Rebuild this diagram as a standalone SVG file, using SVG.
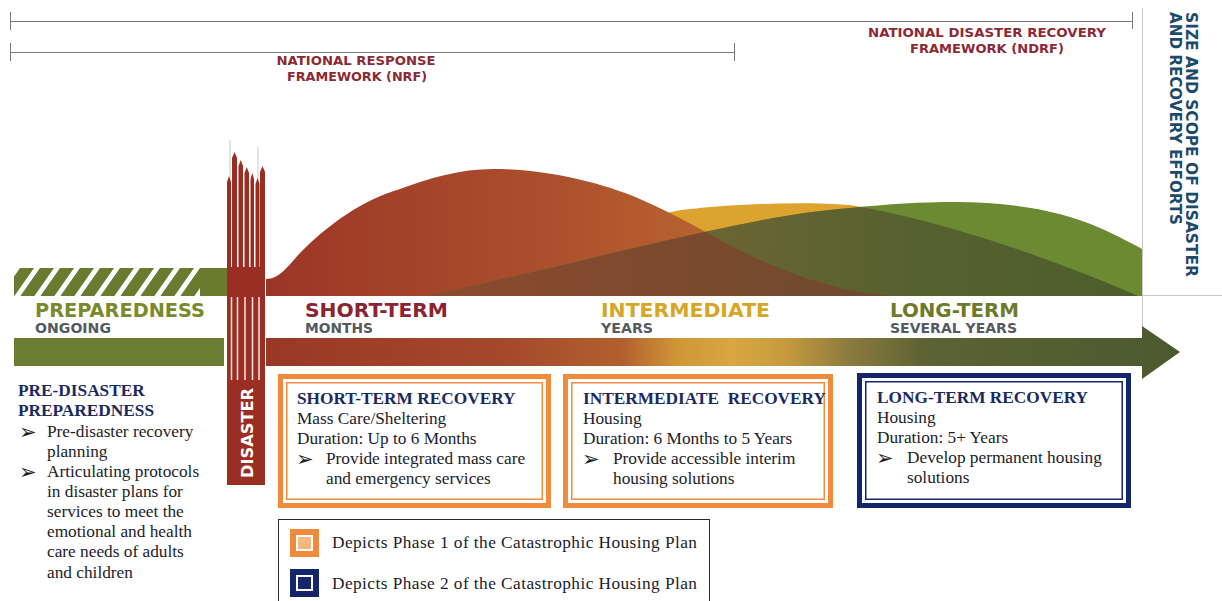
<svg xmlns="http://www.w3.org/2000/svg" width="1222" height="601" viewBox="0 0 1222 601">
  <style>
    .fw { font-family: "DejaVu Sans", Verdana, sans-serif; font-weight: bold; font-size: 12.5px; fill: #8b2a33; text-anchor: middle; }
    .phase { font-family: "DejaVu Sans", Verdana, sans-serif; font-weight: bold; font-size: 19px; }
    .sub { font-family: "DejaVu Sans", Verdana, sans-serif; font-weight: bold; font-size: 13.5px; fill: #555a60; }
    .vert { font-family: "DejaVu Sans", Verdana, sans-serif; font-weight: bold; font-size: 15px; fill: #1b4a6b; }
    .serif { font-family: "Liberation Serif", "Times New Roman", serif; font-size: 17.3px; fill: #1c1c2a; }
    .ttl { font-weight: bold; fill: #1b2a5e; }
    .bul { font-family: "DejaVu Sans", sans-serif; font-size: 21px; fill: #1c1c2a; }
    .scale { stroke: #7a7a7a; stroke-width: 1; fill: none; }
    .orangeOuter { fill: none; stroke: #f08a3c; stroke-width: 5; }
    .orangeInner { fill: none; stroke: #f08a3c; stroke-width: 1.5; }
    .navyOuter { fill: none; stroke: #15256a; stroke-width: 5; }
    .navyInner { fill: none; stroke: #15256a; stroke-width: 1.5; }
    .col { fill: #9b2e22; }
  </style>
  <defs>
    <pattern id="hatch" width="20" height="28" patternUnits="userSpaceOnUse" patternTransform="translate(14,268) skewX(-35)">
      <rect width="20" height="28" fill="#6a7a2e"/>
      <rect width="6" height="28" fill="#ffffff"/>
    </pattern>
    <linearGradient id="redGrad" gradientUnits="userSpaceOnUse" x1="266" y1="0" x2="890" y2="0">
      <stop offset="0" stop-color="#9c3526"/>
      <stop offset="0.45" stop-color="#ab4f2d"/>
      <stop offset="0.7" stop-color="#b8622f"/>
      <stop offset="1" stop-color="#b05a2e"/>
    </linearGradient>
    <linearGradient id="olive" gradientUnits="userSpaceOnUse" x1="680" y1="0" x2="1140" y2="0">
      <stop offset="0" stop-color="#6e6634"/>
      <stop offset="0.45" stop-color="#58612f"/>
      <stop offset="1" stop-color="#4c5d2c"/>
    </linearGradient>
    <linearGradient id="brown" gradientUnits="userSpaceOnUse" x1="430" y1="0" x2="890" y2="0">
      <stop offset="0" stop-color="#8c4a2e"/>
      <stop offset="1" stop-color="#6e4a2e"/>
    </linearGradient>
    <linearGradient id="arrowGrad" gradientUnits="userSpaceOnUse" x1="266" y1="0" x2="1180" y2="0">
      <stop offset="0" stop-color="#993826"/>
      <stop offset="0.26" stop-color="#a4482b"/>
      <stop offset="0.39" stop-color="#b2602e"/>
      <stop offset="0.45" stop-color="#cf9636"/>
      <stop offset="0.51" stop-color="#d9a640"/>
      <stop offset="0.57" stop-color="#c49a3e"/>
      <stop offset="0.64" stop-color="#8a7a3e"/>
      <stop offset="0.72" stop-color="#5c6234"/>
      <stop offset="1" stop-color="#4b5a2e"/>
    </linearGradient>
    <path id="humpRed" d="M266,296 L266,279 C282,279 290,262 305,248 C330,224 362,200 400,189 C430,178 460,169 493,169 C545,169 600,182 640,199 C670,212 695,226 720,240 C780,272 830,290 890,296 Z"/>
    <path id="humpGold" d="M560,296 C600,240 640,214 690,209 C740,204 800,201 850,205 C950,222 1060,262 1138,296 Z"/>
    <path id="humpGreen" d="M425,296 C520,276 630,248 700,233 C760,220 800,212 850,208 C890,204 920,202 955,202 C1010,202 1060,210 1100,228 C1120,237 1135,245 1142,249 L1142,296 Z"/>
    <clipPath id="clipGreen"><use href="#humpGreen"/></clipPath>
  </defs>

  <rect width="1222" height="601" fill="#ffffff"/>

  <!-- framework span scales -->
  <g id="connectors">
    <path class="scale" d="M10.5,21.5 H1132.5 M10.5,12 V30 M1132.5,12 V29"/>
    <path class="scale" d="M10.5,52.5 H734.5 M10.5,43 V61 M734.5,43 V61"/>
    <path d="M1142.5,8 V328 M1142,295.5 H1222" stroke="#c8c8c8" stroke-width="1" fill="none"/>
    <!-- timeline arrow -->
    <path id="timeline" d="M266,338 H1142 V326 L1180,352 L1142,379 V366 H266 Z" fill="url(#arrowGrad)"/>
  </g>

  <g id="nrf-label">
    <text class="fw" x="356" y="65" textLength="159" lengthAdjust="spacingAndGlyphs">NATIONAL RESPONSE</text>
    <text class="fw" x="357" y="81" textLength="140" lengthAdjust="spacingAndGlyphs">FRAMEWORK (NRF)</text>
  </g>
  <g id="ndrf-label">
    <text class="fw" x="987" y="37" textLength="238" lengthAdjust="spacingAndGlyphs">NATIONAL DISASTER RECOVERY</text>
    <text class="fw" x="987" y="53" textLength="154" lengthAdjust="spacingAndGlyphs">FRAMEWORK (NDRF)</text>
  </g>

  <g id="scope-label">
    <text class="vert" transform="translate(1186,12) rotate(90)" textLength="265" lengthAdjust="spacingAndGlyphs">SIZE AND SCOPE OF DISASTER</text>
    <text class="vert" transform="translate(1170,12) rotate(90)" textLength="213" lengthAdjust="spacingAndGlyphs">AND RECOVERY EFFORTS</text>
  </g>

  <!-- recovery effort humps -->
  <g id="humps">
    <use href="#humpGold" fill="#dca42e"/>
    <use href="#humpRed" fill="url(#redGrad)"/>
    <use href="#humpGreen" fill="#6b8a32"/>
    <use href="#humpGold" fill="url(#olive)" clip-path="url(#clipGreen)"/>
    <use href="#humpRed" fill="url(#brown)" clip-path="url(#clipGreen)"/>
  </g>

  <!-- preparedness phase -->
  <g id="preparedness">
    <rect x="14" y="268" width="214" height="28" fill="url(#hatch)"/>
    <rect x="200" y="268" width="28" height="28" fill="#6a7a2e"/>
    <text class="phase" x="35" y="317" fill="#7a8a2a" textLength="170" lengthAdjust="spacingAndGlyphs">PREPAREDNESS</text>
    <text class="sub" x="35" y="333" textLength="76" lengthAdjust="spacingAndGlyphs">ONGOING</text>
    <rect x="14" y="338" width="210" height="28" fill="#6b7d33"/>
  </g>

  <g id="phase-labels">
    <text class="phase" x="305" y="317" fill="#8b2332" textLength="143" lengthAdjust="spacingAndGlyphs">SHORT-TERM</text>
    <text class="sub" x="305" y="333" textLength="68" lengthAdjust="spacingAndGlyphs">MONTHS</text>
    <text class="phase" x="601" y="317" fill="#d6a624" textLength="169" lengthAdjust="spacingAndGlyphs">INTERMEDIATE</text>
    <text class="sub" x="601" y="333" textLength="52" lengthAdjust="spacingAndGlyphs">YEARS</text>
    <text class="phase" x="890" y="317" fill="#6d7a2a" textLength="129" lengthAdjust="spacingAndGlyphs">LONG-TERM</text>
    <text class="sub" x="890" y="333" textLength="127" lengthAdjust="spacingAndGlyphs">SEVERAL YEARS</text>
  </g>

  <!-- disaster column -->
  <g id="disaster">
    <path d="M230,268 V140 M258,268 V147" stroke="#bdbdbd" stroke-width="0.8"/>
    <path class="col" d="M227,268 V182 L229,176 L231,182 V268 Z"/>
    <path class="col" d="M232,268 V158 L234.5,152 L237,158 V268 Z"/>
    <path class="col" d="M238.5,268 V166 L240.75,160 L243,166 V268 Z"/>
    <path class="col" d="M244.5,268 V173 L246.75,167 L249,173 V268 Z"/>
    <path class="col" d="M250.5,268 V179 L252.25,173 L254,179 V268 Z"/>
    <path class="col" d="M255.5,268 V184 L257.5,178 L259.5,184 V268 Z"/>
    <path class="col" d="M260,268 V172 L262.5,166 L265,172 V268 Z"/>
    <rect class="col" x="227" y="267" width="38" height="218"/>
    <path d="M231.5,297 V380 M237.5,297 V380 M245,297 V380 M252.5,297 V380 M259,297 V380" stroke="#f4e6e2" stroke-width="1.5"/>
    <text transform="translate(252.5,433) rotate(-90)" text-anchor="middle" font-family="DejaVu Sans, sans-serif" font-weight="bold" font-size="15" fill="#ffffff" textLength="90" lengthAdjust="spacingAndGlyphs">DISASTER</text>
  </g>

  <!-- pre-disaster notes -->
  <g id="pre-disaster">
    <text class="serif ttl" x="18" y="396">PRE-DISASTER</text>
    <text class="serif ttl" x="18" y="416">PREPAREDNESS</text>
    <text class="bul" x="19" y="439">➢</text>
    <text class="serif" x="47" y="437">Pre-disaster recovery</text>
    <text class="serif" x="47" y="457">planning</text>
    <text class="bul" x="19" y="479">➢</text>
    <text class="serif" x="47" y="477">Articulating protocols</text>
    <text class="serif" x="47" y="497">in disaster plans for</text>
    <text class="serif" x="47" y="517">services to meet the</text>
    <text class="serif" x="47" y="537">emotional and health</text>
    <text class="serif" x="47" y="557">care needs of adults</text>
    <text class="serif" x="47" y="578">and children</text>
  </g>

  <!-- phase 1: short-term recovery -->
  <g id="short-term-box">
    <rect class="orangeOuter" x="280.5" y="376.5" width="268" height="129"/>
    <rect class="orangeInner" x="286.75" y="382.75" width="255.5" height="116.5"/>
    <text class="serif ttl" x="297" y="404">SHORT-TERM RECOVERY</text>
    <text class="serif" x="297" y="424">Mass Care/Sheltering</text>
    <text class="serif" x="297" y="444">Duration: Up to 6 Months</text>
    <text class="bul" x="296" y="466">➢</text>
    <text class="serif" x="326" y="464">Provide integrated mass care</text>
    <text class="serif" x="326" y="484">and emergency services</text>
  </g>

  <!-- phase 1: intermediate recovery -->
  <g id="intermediate-box">
    <rect class="orangeOuter" x="565.5" y="376.5" width="265" height="129"/>
    <rect class="orangeInner" x="571.75" y="382.75" width="252.5" height="116.5"/>
    <text class="serif ttl" x="583" y="404" xml:space="preserve">INTERMEDIATE  RECOVERY</text>
    <text class="serif" x="583" y="424">Housing</text>
    <text class="serif" x="583" y="444">Duration: 6 Months to 5 Years</text>
    <text class="bul" x="582" y="466">➢</text>
    <text class="serif" x="613" y="464">Provide accessible interim</text>
    <text class="serif" x="613" y="484">housing solutions</text>
  </g>

  <!-- phase 2: long-term recovery -->
  <g id="long-term-box">
    <rect class="navyOuter" x="859.5" y="375.5" width="269" height="130"/>
    <rect class="navyInner" x="865.75" y="381.75" width="256.5" height="117.5"/>
    <text class="serif ttl" x="877" y="403">LONG-TERM RECOVERY</text>
    <text class="serif" x="877" y="423">Housing</text>
    <text class="serif" x="877" y="443">Duration: 5+ Years</text>
    <text class="bul" x="876" y="465">➢</text>
    <text class="serif" x="907" y="463">Develop permanent housing</text>
    <text class="serif" x="907" y="483">solutions</text>
  </g>

  <!-- legend -->
  <g id="legend">
    <rect x="278.5" y="519.5" width="431" height="90" fill="#ffffff" stroke="#2a2a2a" stroke-width="1"/>
    <rect x="290" y="529" width="29" height="28" fill="#f08a3c"/>
    <rect x="297" y="536" width="15" height="14" fill="#f6b87e" stroke="#ffffff" stroke-width="2"/>
    <text class="serif" x="332" y="548" textLength="365" lengthAdjust="spacing">Depicts Phase 1 of the Catastrophic Housing Plan</text>
    <rect x="290" y="569" width="29" height="28" fill="#15256a"/>
    <rect x="297" y="576" width="15" height="14" fill="#15256a" stroke="#ffffff" stroke-width="2"/>
    <text class="serif" x="332" y="589" textLength="365" lengthAdjust="spacing">Depicts Phase 2 of the Catastrophic Housing Plan</text>
  </g>
</svg>
